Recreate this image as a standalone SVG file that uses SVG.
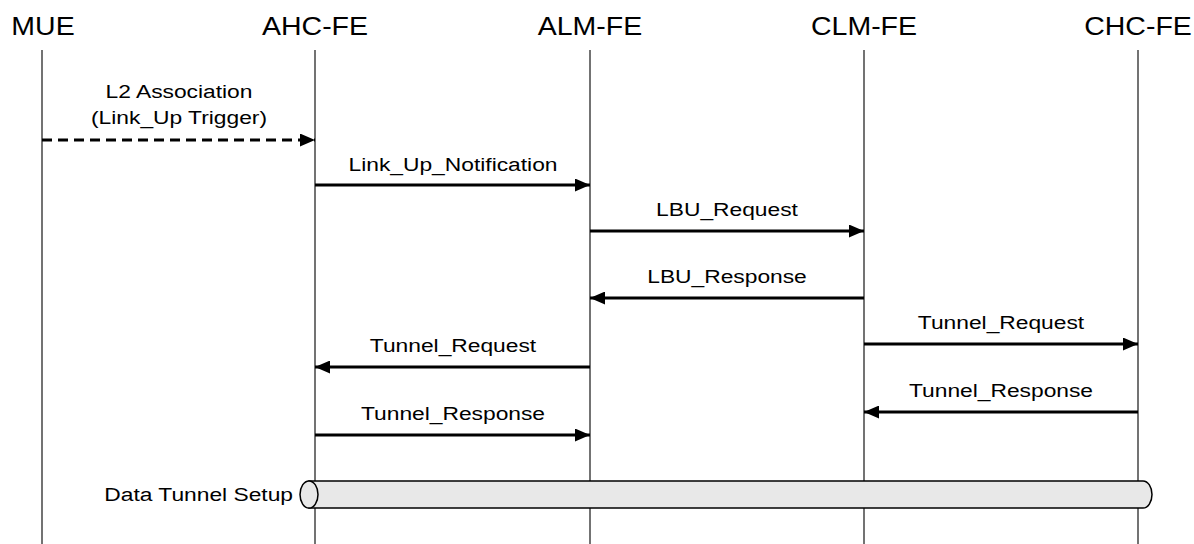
<svg xmlns="http://www.w3.org/2000/svg" width="1194" height="544" viewBox="0 0 1194 544">
<style>
text{font-family:"Liberation Sans",Arial,sans-serif;fill:#000}
.t{font-size:25px;text-anchor:middle}
.l{font-size:19px;text-anchor:middle}
.life{stroke:#444;stroke-width:1.5}
.m{stroke:#000;stroke-width:3;fill:none}
</style>
<defs>
<marker id="ah" viewBox="0 0 15 13" refX="15" refY="6.5" markerWidth="15" markerHeight="13" markerUnits="userSpaceOnUse" orient="auto">
<path d="M0,0 L15,6.5 L0,13 Z" fill="#000"/>
</marker>
</defs>
<rect width="1194" height="544" fill="#fff"/>
<g id="MUE"><text class="t" transform="translate(43,35) scale(1.14,1)">MUE</text><line class="life" x1="42" y1="50" x2="42" y2="544"/></g>
<g id="AHC-FE"><text class="t" transform="translate(315,35) scale(1.14,1)">AHC-FE</text><line class="life" x1="315" y1="50" x2="315" y2="544"/></g>
<g id="ALM-FE"><text class="t" transform="translate(590,35) scale(1.14,1)">ALM-FE</text><line class="life" x1="590" y1="50" x2="590" y2="544"/></g>
<g id="CLM-FE"><text class="t" transform="translate(864,35) scale(1.14,1)">CLM-FE</text><line class="life" x1="864" y1="50" x2="864" y2="544"/></g>
<g id="CHC-FE"><text class="t" transform="translate(1138,35) scale(1.14,1)">CHC-FE</text><line class="life" x1="1138" y1="50" x2="1138" y2="544"/></g>
<g id="connectors">
<line class="m" x1="42" y1="140" x2="315" y2="140" stroke-dasharray="10,6" marker-end="url(#ah)"/>
<text class="l" transform="translate(179,98) scale(1.2,1)">L2 Association</text>
<text class="l" transform="translate(179,124) scale(1.2,1)">(Link_Up Trigger)</text>
<line class="m" x1="315" y1="185" x2="590" y2="185" marker-end="url(#ah)"/>
<text class="l" transform="translate(453,171) scale(1.2,1)">Link_Up_Notification</text>
<line class="m" x1="590" y1="231" x2="864" y2="231" marker-end="url(#ah)"/>
<text class="l" transform="translate(727,216) scale(1.2,1)">LBU_Request</text>
<line class="m" x1="864" y1="298" x2="590" y2="298" marker-end="url(#ah)"/>
<text class="l" transform="translate(727,283) scale(1.2,1)">LBU_Response</text>
<line class="m" x1="864" y1="344" x2="1138" y2="344" marker-end="url(#ah)"/>
<text class="l" transform="translate(1001,329) scale(1.2,1)">Tunnel_Request</text>
<line class="m" x1="590" y1="367" x2="315" y2="367" marker-end="url(#ah)"/>
<text class="l" transform="translate(453,352) scale(1.2,1)">Tunnel_Request</text>
<line class="m" x1="1138" y1="412" x2="864" y2="412" marker-end="url(#ah)"/>
<text class="l" transform="translate(1001,397) scale(1.2,1)">Tunnel_Response</text>
<line class="m" x1="315" y1="435" x2="590" y2="435" marker-end="url(#ah)"/>
<text class="l" transform="translate(453,420) scale(1.2,1)">Tunnel_Response</text>
</g>
<g id="tunnel">
<path d="M309,481 L1143,481 A9,13.5 0 0 1 1143,508 L309,508 Z" fill="#e8e8e8" stroke="#000" stroke-width="1.5"/>
<ellipse cx="309" cy="494.5" rx="9" ry="13.5" fill="#e8e8e8" stroke="#000" stroke-width="1.5"/>
<text font-size="19" text-anchor="end" transform="translate(293,501) scale(1.2,1)">Data Tunnel Setup</text>
</g>
</svg>
